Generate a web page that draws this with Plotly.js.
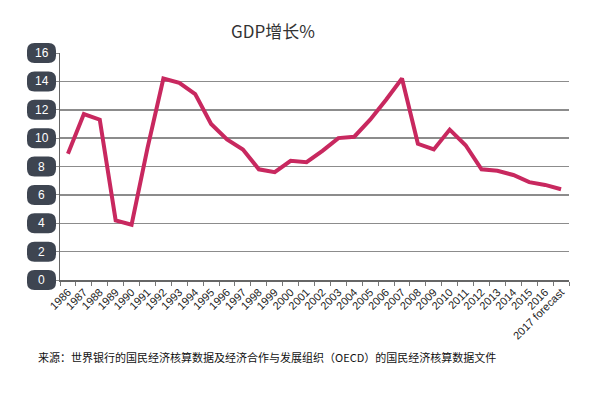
<!DOCTYPE html>
<html>
<head>
<meta charset="utf-8">
<script src="https://cdn.plot.ly/plotly-3.0.1.min.js"></script>
<style>html,body{margin:0;padding:0;background:#fff;}#chart{width:597px;height:399px;}</style>
</head>
<body>
<div id="chart"></div>
<script>
const years = ["1986","1987","1988","1989","1990","1991","1992","1993","1994","1995","1996","1997","1998","1999","2000","2001","2002","2003","2004","2005","2006","2007","2008","2009","2010","2011","2012","2013","2014","2015","2016","2017 forecast"];
const gdpGrowth = [8.9,11.7,11.3,4.2,3.9,9.3,14.2,13.9,13.1,11.0,9.9,9.2,7.8,7.6,8.4,8.3,9.1,10.0,10.1,11.3,12.7,14.2,9.6,9.2,10.6,9.5,7.8,7.7,7.4,6.9,6.7,6.4];
const yTicks = [0,2,4,6,8,10,12,14,16];
const titleText = "GDP增长%";
const sourceText = "来源：世界银行的国民经济核算数据及经济合作与发展组织（OECD）的国民经济核算数据文件";

const W = 597, H = 399, ml = 60, mr = 28, mt = 53, mb = 119;
const pw = W - ml - mr, ph = H - mt - mb;
const yMax = 16;
const pillCx = 41.5;

function pillPath(cxPx, v) {
  // build rounded rectangle in paper coords from pixel offsets
  const cy = v / yMax;
  const px = d => ((cxPx + d) - ml) / pw;
  const py = d => cy + d / ph;
  const hw = 14.5, hh = 10, r = 7.5;
  return `M ${px(-hw + r)},${py(-hh)} L ${px(hw - r)},${py(-hh)} Q ${px(hw)},${py(-hh)} ${px(hw)},${py(-hh + r)} ` +
         `L ${px(hw)},${py(hh - r)} Q ${px(hw)},${py(hh)} ${px(hw - r)},${py(hh)} ` +
         `L ${px(-hw + r)},${py(hh)} Q ${px(-hw)},${py(hh)} ${px(-hw)},${py(hh - r)} ` +
         `L ${px(-hw)},${py(-hh + r)} Q ${px(-hw)},${py(-hh)} ${px(-hw + r)},${py(-hh)} Z`;
}

const shapes = yTicks.map(v => ({
  type: 'path', xref: 'paper', yref: 'paper', path: pillPath(pillCx, v),
  fillcolor: '#3e4551', line: {width: 0}, layer: 'above'
}));
const annotations = yTicks.map(v => ({
  xref: 'paper', yref: 'y', x: (pillCx - ml) / pw, y: v, text: String(v), showarrow: false,
  font: {family: 'Arial, Liberation Sans, sans-serif', size: 12, color: '#ffffff'},
  xanchor: 'center', yanchor: 'middle'
}));
annotations.push({
  xref: 'paper', yref: 'paper', x: (267 - ml) / pw, y: -(357 - (H - mb)) / ph,
  text: sourceText, showarrow: false, xanchor: 'center', yanchor: 'middle',
  font: {family: 'Noto Sans CJK SC, sans-serif', size: 11, color: '#111'}
});

const trace = {
  x: years, y: gdpGrowth, type: 'scatter', mode: 'lines',
  line: {color: '#c8285f', width: 4}, hoverinfo: 'skip'
};

const layout = {
  width: W, height: H,
  margin: {l: ml, r: mr, t: mt, b: mb, pad: 0},
  paper_bgcolor: '#fff', plot_bgcolor: '#fff',
  showlegend: false,
  title: {text: titleText, xref: 'container', x: 273 / W, xanchor: 'center', y: 1 - 32 / H, yanchor: 'middle',
          font: {family: 'Noto Sans CJK SC, sans-serif', size: 17, color: '#333'}},
  xaxis: {
    type: 'category', range: [-0.5, years.length - 0.5], tickangle: -45,
    tickson: 'boundaries', ticks: 'outside', ticklen: 4, tickcolor: '#777', tickwidth: 1,
    showgrid: false, showline: true, linecolor: '#666', linewidth: 1.5,
    tickfont: {family: 'Arial, Liberation Sans, sans-serif', size: 11, color: '#222'},
    fixedrange: true
  },
  yaxis: {
    range: [0, yMax], tickvals: yTicks, showticklabels: false,
    ticks: 'outside', ticklen: 4, tickcolor: '#888',
    showgrid: true, gridcolor: '#8c8c8c', gridwidth: 1.5, zeroline: false,
    showline: true, linecolor: '#666', linewidth: 1.5, fixedrange: true
  },
  shapes: shapes,
  annotations: annotations
};

Plotly.newPlot('chart', [trace], layout, {displayModeBar: false, staticPlot: true});
</script>
</body>
</html>
